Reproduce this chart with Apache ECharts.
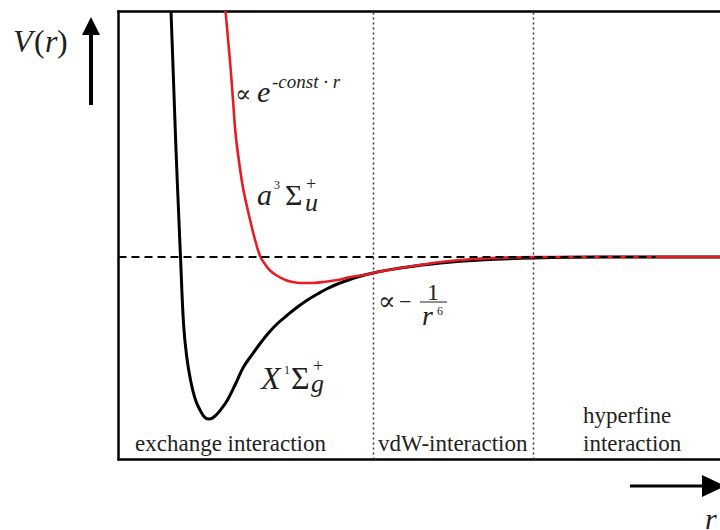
<!DOCTYPE html>
<html>
<head>
<meta charset="utf-8">
<title>V(r)</title>
<script src="https://cdn.jsdelivr.net/npm/echarts@6/dist/echarts.min.js"></script>
<style>
  html, body { margin: 0; padding: 0; background: #fff; }
  #chart { width: 720px; height: 530px; }
</style>
</head>
<body>
<div id="chart"></div>
<script>
// Interatomic potential curves V(r), arbitrary units (V = 0 at dissociation)
const singletR = [5.25, 5.5, 5.75, 6.0, 6.2, 6.5, 6.8, 7.2, 7.7, 8.2, 8.7, 9.1, 9.6, 10.2, 10.9, 11.7, 12.5, 13.4, 14.2, 15.0, 15.9, 16.9, 17.9, 18.9, 19.9, 20.9, 21.9, 23.9, 25.9, 28.2, 32.2, 36.2, 41.5, 48.2, 60.15];
const singletV = [24.6, 17.7, 10.7, 4.7, 0, -6.6, -9.8, -12.3, -14.3, -15.4, -16.1, -16.2, -15.95, -15.3, -14.3, -12.7, -11.0, -9.7, -8.6, -7.6, -6.65, -5.8, -5.0, -4.3, -3.7, -3.15, -2.7, -2.0, -1.5, -1.1, -0.6, -0.3, -0.1, 0, 0];

const tripletR = [10.7, 11.2, 11.45, 11.7, 12.03, 12.4, 12.7, 13.4, 13.8, 14.2, 14.7, 15.2, 15.9, 16.7, 17.4, 18.2, 19.2, 20.5, 21.9, 23.2, 24.5, 25.9, 28.2, 32.2, 35.5, 41.5, 60.15];
const tripletV = [24.6, 19.0, 15.7, 12.4, 9.7, 7.2, 5.7, 2.7, 1.2, 0, -0.8, -1.4, -1.9, -2.3, -2.5, -2.6, -2.6, -2.5, -2.3, -2.0, -1.8, -1.5, -1.1, -0.5, -0.2, 0, 0];

// Dissociation threshold (dashed) and region boundaries (dotted)
const thresholdR = [0, 53.7];
const boundaries = [25.5, 41.5];
const regionNames = ['exchange interaction', 'vdW-interaction', 'hyperfine', 'interaction'];

const rMin = 0, rMax = 60.15;
const vMin = -20.25, vMax = 24.57;

const zip = (xs, ys) => xs.map((x, i) => [x, ys[i]]);

const SERIF = '"Liberation Serif", "Times New Roman", "DejaVu Serif", serif';
const INK = '#231f20';
const RED = '#e51d25';

// text piece positioned by its left edge and baseline
function txt(x, baseline, str, size, italic) {
  return {
    type: 'text', z: 50, silent: true,
    x: x, y: baseline - 0.3 * size,
    style: {
      text: str,
      font: (italic ? 'italic ' : '') + size + 'px ' + SERIF,
      fill: INK,
      align: 'left',
      verticalAlign: 'middle'
    }
  };
}

const frame = { show: true, onZero: false, lineStyle: { color: '#000', width: 2.5 } };
const bareAxis = {
  type: 'value', min: rMin, max: rMax,
  axisTick: { show: false }, axisLabel: { show: false }, splitLine: { show: false }
};

const chart = echarts.init(document.getElementById('chart'), null, { renderer: 'svg' });

const boundarySeries = boundaries.map(b => ({
  type: 'line',
  data: [[b, vMin], [b, vMax]],
  symbol: 'none',
  silent: true,
  z: 3,
  lineStyle: { color: '#333', width: 1.5, type: [2, 3] }
}));

chart.setOption({
  animation: false,
  grid: { left: 118.5, right: 0, top: 11.3, bottom: 70.5 },
  xAxis: [
    Object.assign({}, bareAxis, { position: 'bottom', axisLine: frame }),
    Object.assign({}, bareAxis, { position: 'top', axisLine: frame })
  ],
  yAxis: {
    type: 'value', min: vMin, max: vMax, position: 'left',
    axisLine: frame, axisTick: { show: false },
    axisLabel: { show: false }, splitLine: { show: false }
  },
  series: [
    {
      name: 'X1Sg+', type: 'line', data: zip(singletR, singletV),
      symbol: 'none', smooth: 0.4, z: 4,
      lineStyle: { color: '#000', width: 3 }
    },
    {
      name: 'a3Su+', type: 'line', data: zip(tripletR, tripletV),
      symbol: 'none', smooth: 0.35, z: 5,
      lineStyle: { color: RED, width: 2.6 }
    },
    {
      name: 'threshold', type: 'line', data: thresholdR.map(r => [r, 0]),
      symbol: 'none', silent: true, z: 6,
      lineStyle: { color: '#000', width: 2, type: [8, 5] }
    },
    ...boundarySeries
  ],
  graphic: [
    // V(r) with upward arrow
    txt(13, 51, 'V', 32, true),
    txt(34, 51, '(', 32, false),
    txt(45, 51, 'r', 32, true),
    txt(57, 51, ')', 32, false),
    { type: 'rect', z: 50, shape: { x: 89, y: 32, width: 4, height: 73 }, style: { fill: '#000' } },
    { type: 'polygon', z: 50, shape: { points: [[82, 35], [91, 17], [100, 35]] }, style: { fill: '#000' } },

    // r with rightward arrow
    { type: 'rect', z: 50, shape: { x: 630, y: 484.5, width: 74, height: 3 }, style: { fill: '#000' } },
    { type: 'polygon', z: 50, shape: { points: [[702, 475], [725, 486], [702, 497]] }, style: { fill: '#000' } },
    txt(705, 527, 'r', 30, true),

    // short-range repulsion
    txt(235, 101, '\u221D', 24, false),
    txt(257, 100, 'e', 30, true),
    txt(272, 87, '-const \u00B7 r', 19, true),

    // triplet label a 3Σu+
    txt(257, 203, 'a', 30, true),
    txt(274, 189, '3', 12, false),
    txt(285, 203, '\u03A3', 30, false),
    txt(306, 189, '+', 18, false),
    txt(305, 210, 'u', 26, true),

    // singlet label X 1Σg+
    txt(261, 388, 'X', 32, true),
    txt(284, 374, '1', 12, false),
    txt(291, 388, '\u03A3', 32, false),
    txt(313, 371, '+', 18, false),
    txt(311, 391, 'g', 26, true),

    // long-range van der Waals tail
    txt(378, 309, '\u221D', 26, false),
    txt(399, 308, '\u2212', 22, false),
    txt(427, 299, '1', 24, false),
    { type: 'line', z: 50, shape: { x1: 420, y1: 302, x2: 447, y2: 302 }, style: { stroke: INK, lineWidth: 1 } },
    txt(422, 324, 'r', 28, true),
    txt(437, 315, '6', 12, false),

    // interaction regions
    txt(135, 450, regionNames[0], 23, false),
    txt(378, 450, regionNames[1], 23, false),
    txt(583, 422, regionNames[2], 23, false),
    txt(583, 450, regionNames[3], 23, false)
  ]
});
</script>
</body>
</html>
